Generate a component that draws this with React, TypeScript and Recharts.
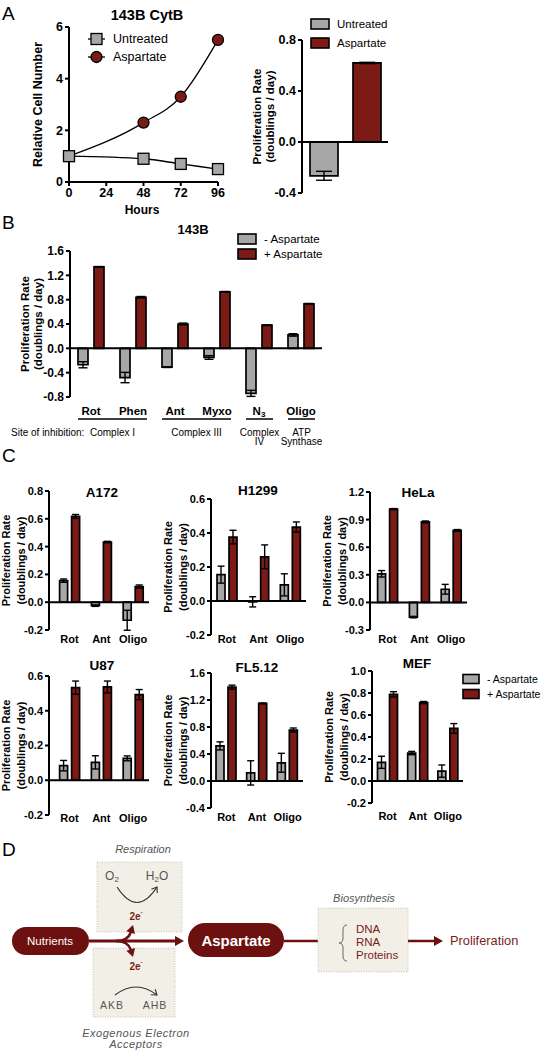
import React from "react";
import { BarChart, Bar, LineChart, Line, XAxis, YAxis, ReferenceLine, ErrorBar } from "recharts";

const FONT = "'Liberation Sans', Arial, Helvetica, sans-serif";
const GRAY = "#a7a7a7";
const RED = "#7c1b16";
const DARK = "#6c1010";
const TEXT_RED = "#7a1c1c";
const SOFT = "#555";

// A: growth curve of 143B CytB cells
const hours = [0, 48, 72, 96];
const untreatedCells = [1, 0.9, 0.7, 0.5];
const aspartateCells = [1, 2.3, 3.3, 5.5];
const hourTicks = [0, 24, 48, 72, 96];
const cellTicks = [0, 2, 4, 6];

// A: proliferation rate
const rateValues = [-0.265, 0.62];
const rateErrors = [0.035, 0.005];
const rateTicks = [-0.4, 0, 0.4, 0.8];

// B: 143B with ETC inhibitors
const inhibitors = ["Rot", "Phen", "Ant", "Myxo", "N3", "Oligo"];
const b143Minus = [-0.27, -0.48, -0.31, -0.15, -0.74, 0.22];
const b143MinusErr = [0.05, 0.085, 0.005, 0.03, 0.05, 0.02];
const b143Plus = [1.34, 0.84, 0.4, 0.93, 0.38, 0.73];
const b143PlusErr = [0.005, 0.012, 0.015, 0.005, 0.005, 0.008];
const b143Ticks = [-0.8, -0.4, 0, 0.4, 0.8, 1.2, 1.6];
const siteLabels = [["Complex I"], ["Complex III"], ["Complex", "IV"], ["ATP", "Synthase"]];
const siteSpans = [[0, 1], [2, 3], [4, 4], [5, 5]];

// C: other cell lines
const cInhibitors = ["Rot", "Ant", "Oligo"];
const a172Minus = [0.155, -0.025, -0.13];
const a172MinusErr = [0.012, 0.005, 0.072];
const a172Plus = [0.617, 0.433, 0.112];
const a172PlusErr = [0.014, 0.005, 0.012];
const a172Ticks = [-0.2, 0, 0.2, 0.4, 0.6, 0.8];

const h1299Minus = [0.155, -0.005, 0.095];
const h1299MinusErr = [0.05, 0.03, 0.065];
const h1299Plus = [0.376, 0.26, 0.435];
const h1299PlusErr = [0.04, 0.07, 0.03];
const h1299Ticks = [-0.2, 0, 0.2, 0.4, 0.6];

const helaMinus = [0.311, -0.16, 0.143];
const helaMinusErr = [0.035, 0.008, 0.053];
const helaPlus = [1.014, 0.875, 0.782];
const helaPlusErr = [0.006, 0.01, 0.01];
const helaTicks = [-0.3, 0, 0.3, 0.6, 0.9, 1.2];

const u87Minus = [0.084, 0.103, 0.126];
const u87MinusErr = [0.03, 0.038, 0.014];
const u87Plus = [0.533, 0.537, 0.493];
const u87PlusErr = [0.038, 0.034, 0.029];
const u87Ticks = [-0.2, 0, 0.2, 0.4, 0.6];

const fl512Minus = [0.52, 0.12, 0.27];
const fl512MinusErr = [0.06, 0.18, 0.14];
const fl512Plus = [1.39, 1.15, 0.755];
const fl512PlusErr = [0.03, 0.005, 0.03];
const fl512Ticks = [-0.4, 0, 0.4, 0.8, 1.2, 1.6];

const mefMinus = [0.17, 0.254, 0.09];
const mefMinusErr = [0.055, 0.015, 0.056];
const mefPlus = [0.788, 0.713, 0.478];
const mefPlusErr = [0.024, 0.01, 0.044];
const mefTicks = [-0.2, 0, 0.2, 0.4, 0.6, 0.8, 1.0];

const rows = (cats: string[], minus: number[], minusErr: number[], plus: number[], plusErr: number[]) =>
  cats.map((name, i) => ({ name, minus: minus[i], minusErr: minusErr[i], plus: plus[i], plusErr: plusErr[i] }));

const growthRows = hours.map((h, i) => ({ h, untreated: untreatedCells[i], aspartate: aspartateCells[i] }));

type Frame = { axisX: number; top: number; bottom: number; right: number; pad: number; labelY: number };

function CategoryTick({ x, y, payload, size }: any) {
  const v = String(payload.value);
  const m = v.match(/^(\D+)(\d)$/);
  return (
    <text x={x} y={y} textAnchor="middle" dominantBaseline="central" fontSize={size} fontWeight={700} fill="#000" fontFamily={FONT}>
      {m ? (
        <>
          {m[1]}
          <tspan fontSize={size * 0.7} dy={3}>{m[2]}</tspan>
        </>
      ) : v}
    </text>
  );
}

function AxisTitle({ viewBox, dx, size, lines }: any) {
  const vb = viewBox ?? { x: 0, y: 0, width: 0, height: 0 };
  const axisX = vb.x + vb.width;
  const cy = vb.y + vb.height / 2;
  return (
    <g>
      {lines.map((t: string, i: number) => (
        <text
          key={t}
          x={axisX + dx[i]}
          y={cy}
          transform={`rotate(-90 ${axisX + dx[i]} ${cy})`}
          textAnchor="middle"
          dominantBaseline="central"
          fontSize={size}
          fontWeight={700}
          fill="#000"
          fontFamily={FONT}
        >
          {t}
        </text>
      ))}
    </g>
  );
}

const RATE_LINES = ["Proliferation Rate", "(doublings / day)"];

function RateBars({ data, frame, ticks, barSize, barGap, errW, tickFont, catFont, labelFont, labelDx }: any) {
  const f: Frame = frame;
  const YW = 50;
  const MT = 8;
  const MR = 4;
  const XH = 34;
  const width = YW + f.right - f.axisX + MR;
  const height = MT + f.bottom - f.top + XH;
  return (
    <div style={{ position: "absolute", left: f.axisX - YW, top: f.top - MT }}>
      <BarChart width={width} height={height} data={data} margin={{ top: MT, right: MR, bottom: 0, left: 0 }} barSize={barSize} barGap={barGap}>
        <XAxis
          dataKey="name"
          height={XH}
          axisLine={false}
          tickLine={false}
          interval={0}
          padding={{ left: f.pad, right: 0 }}
          tickSize={0}
          tickMargin={f.labelY - f.bottom}
          tick={<CategoryTick size={catFont} />}
        />
        <YAxis
          width={YW}
          type="number"
          domain={[ticks[0], ticks[ticks.length - 1]]}
          ticks={ticks}
          interval={0}
          allowDataOverflow
          tickFormatter={(v: number) => v.toFixed(1)}
          tick={{ fill: "#000", fontSize: tickFont, fontWeight: 700, fontFamily: FONT }}
          tickSize={4}
          tickMargin={2}
          axisLine={{ stroke: "#000", strokeWidth: 2 }}
          tickLine={{ stroke: "#000", strokeWidth: 2 }}
          label={<AxisTitle dx={labelDx} size={labelFont} lines={RATE_LINES} />}
        />
        <ReferenceLine y={0} stroke="#000" strokeWidth={2} />
        <Bar dataKey="minus" fill={GRAY} stroke="#000" strokeWidth={1.7} isAnimationActive={false}>
          <ErrorBar dataKey="minusErr" width={errW} stroke="#000" strokeWidth={1.4} />
        </Bar>
        <Bar dataKey="plus" fill={RED} stroke="#000" strokeWidth={1.7} isAnimationActive={false}>
          <ErrorBar dataKey="plusErr" width={errW} stroke="#000" strokeWidth={1.4} />
        </Bar>
      </BarChart>
    </div>
  );
}

function SquareDot({ cx, cy }: any) {
  if (cx == null || cy == null) return null;
  return <rect x={cx - 5.5} y={cy - 5.5} width={11} height={11} fill={GRAY} stroke="#000" strokeWidth={1.3} />;
}

function CircleDot({ cx, cy }: any) {
  if (cx == null || cy == null) return null;
  return <circle cx={cx} cy={cy} r={5.5} fill={RED} stroke="#000" strokeWidth={1.3} />;
}

function GrowthChart() {
  const axisX = 69;
  const top = 27;
  const bottom = 182;
  const right = 218;
  const YW = 69;
  const MT = 8;
  const MR = 14;
  const XH = 26;
  const tick = { fill: "#000", fontSize: 12.5, fontWeight: 700, fontFamily: FONT };
  return (
    <div style={{ position: "absolute", left: axisX - YW, top: top - MT }}>
      <LineChart width={YW + right - axisX + MR} height={MT + bottom - top + XH} data={growthRows} margin={{ top: MT, right: MR, bottom: 0, left: 0 }}>
        <XAxis
          type="number"
          dataKey="h"
          domain={[0, 96]}
          ticks={hourTicks}
          interval={0}
          height={XH}
          tick={tick}
          tickSize={4}
          tickMargin={2}
          axisLine={{ stroke: "#000", strokeWidth: 2 }}
          tickLine={{ stroke: "#000", strokeWidth: 2 }}
        />
        <YAxis
          width={YW}
          type="number"
          domain={[0, 6]}
          ticks={cellTicks}
          interval={0}
          tick={tick}
          tickSize={4}
          tickMargin={2}
          axisLine={{ stroke: "#000", strokeWidth: 2 }}
          tickLine={{ stroke: "#000", strokeWidth: 2 }}
          label={<AxisTitle dx={[-31]} size={12.5} lines={["Relative Cell Number"]} />}
        />
        <Line type="monotone" dataKey="aspartate" stroke="#000" strokeWidth={1.3} dot={<CircleDot />} isAnimationActive={false} />
        <Line type="monotone" dataKey="untreated" stroke="#000" strokeWidth={1.3} dot={<SquareDot />} isAnimationActive={false} />
      </LineChart>
    </div>
  );
}

function arrowHead(tx: number, ty: number, dx: number, dy: number, len: number, half: number) {
  const n = Math.hypot(dx, dy);
  const ux = dx / n;
  const uy = dy / n;
  const bx = tx - ux * len;
  const by = ty - uy * len;
  return `${tx},${ty} ${bx - uy * half},${by + ux * half} ${bx + uy * half},${by - ux * half}`;
}

function chevron(tx: number, ty: number, dx: number, dy: number, len: number, half: number) {
  const n = Math.hypot(dx, dy);
  const ux = dx / n;
  const uy = dy / n;
  const bx = tx - ux * len;
  const by = ty - uy * len;
  return `M${bx - uy * half},${by + ux * half} L${tx},${ty} L${bx + uy * half},${by - ux * half}`;
}

function Txt({ x, y, size = 11, bold = false, italic = false, anchor = "middle", fill = "#000", children, spacing }: any) {
  return (
    <text
      x={x}
      y={y}
      fontSize={size}
      fontWeight={bold ? 700 : 400}
      fontStyle={italic ? "italic" : "normal"}
      textAnchor={anchor}
      dominantBaseline="central"
      fill={fill}
      fontFamily={FONT}
      letterSpacing={spacing}
    >
      {children}
    </text>
  );
}

function Swatch({ x, y, w, h, fill, label, size }: any) {
  return (
    <g>
      <rect x={x} y={y - h / 2} width={w} height={h} fill={fill} stroke="#000" strokeWidth={1.6} />
      <Txt x={x + w + 8} y={y} size={size} anchor="start">{label}</Txt>
    </g>
  );
}

function Overlay() {
  const bFrame = b143Frame;
  const band = (bFrame.right - bFrame.axisX) / inhibitors.length;
  const center = (i: number) => bFrame.axisX + bFrame.pad + band * (i + 0.5);
  return (
    <svg width={541} height={1050} style={{ position: "absolute", left: 0, top: 0 }}>
      {/* panel letters */}
      <Txt x={2} y={13} size={19} anchor="start">A</Txt>
      <Txt x={2} y={222} size={19} anchor="start">B</Txt>
      <Txt x={2} y={455} size={19} anchor="start">C</Txt>
      <Txt x={2} y={849} size={19} anchor="start">D</Txt>

      {/* A */}
      <Txt x={147} y={15} size={14.5} bold>143B CytB</Txt>
      <line x1={88} x2={105} y1={39} y2={39} stroke="#000" strokeWidth={1.3} />
      <rect x={91} y={33.5} width={11} height={11} fill={GRAY} stroke="#000" strokeWidth={1.3} />
      <Txt x={113} y={39} size={12.5} anchor="start">Untreated</Txt>
      <line x1={88} x2={105} y1={57} y2={57} stroke="#000" strokeWidth={1.3} />
      <circle cx={96.5} cy={57} r={5.5} fill={RED} stroke="#000" strokeWidth={1.3} />
      <Txt x={113} y={57} size={12.5} anchor="start">Aspartate</Txt>
      <Txt x={142} y={210} size={12} bold>Hours</Txt>
      <Swatch x={311} y={24} w={18} h={10} fill={GRAY} label="Untreated" size={11.5} />
      <Swatch x={311} y={43} w={18} h={10} fill={RED} label="Aspartate" size={11.5} />

      {/* B */}
      <Txt x={193} y={229} size={13} bold>143B</Txt>
      <Swatch x={238} y={239} w={18} h={10} fill={GRAY} label="- Aspartate" size={11.5} />
      <Swatch x={238} y={254} w={18} h={10} fill={RED} label="+ Aspartate" size={11.5} />
      <Txt x={11} y={432} size={10} anchor="start">Site of inhibition:</Txt>
      {siteSpans.map(([a, b], i) => {
        const x1 = center(a) - 13;
        const x2 = center(b) + 14;
        const mid = (x1 + x2) / 2;
        return (
          <g key={i}>
            <line x1={x1} x2={x2} y1={419} y2={419} stroke="#000" strokeWidth={1.5} />
            {siteLabels[i].map((t, j) => (
              <Txt key={t} x={mid} y={432 + j * 9.5} size={10}>{t}</Txt>
            ))}
          </g>
        );
      })}

      {/* C titles + legend */}
      <Txt x={102} y={492} size={13.5} bold>A172</Txt>
      <Txt x={258} y={490} size={13.5} bold>H1299</Txt>
      <Txt x={418} y={492} size={13.5} bold>HeLa</Txt>
      <Txt x={102} y={665} size={13.5} bold>U87</Txt>
      <Txt x={257} y={667} size={13.5} bold>FL5.12</Txt>
      <Txt x={417} y={663} size={13.5} bold>MEF</Txt>
      <Swatch x={463} y={679} w={16} h={9} fill={GRAY} label="- Aspartate" size={10.5} />
      <Swatch x={463} y={694} w={16} h={9} fill={RED} label="+ Aspartate" size={10.5} />

      {/* D diagram */}
      <Txt x={143} y={849} size={11} italic fill={SOFT}>Respiration</Txt>
      <rect x={97} y={862} width={85} height={70} fill="#f2f0e6" stroke="#c6c3b4" strokeDasharray="1 1.5" />
      <text x={112} y={876} fontSize={12} fill={SOFT} fontFamily={FONT} textAnchor="middle" dominantBaseline="central">
        O<tspan fontSize={8} dy={3}>2</tspan>
      </text>
      <text x={157} y={876} fontSize={12} fill={SOFT} fontFamily={FONT} textAnchor="middle" dominantBaseline="central">
        H<tspan fontSize={8} dy={3}>2</tspan><tspan dy={-3}>O</tspan>
      </text>
      <path d="M117,887 Q137,918 157,887" fill="none" stroke="#333" strokeWidth={1.1} />
      <path d={chevron(157, 887, 20, -31, 5, 3.5)} fill="none" stroke="#333" strokeWidth={1.1} />
      <text x={136} y={916} fontSize={10} fontWeight={700} fill={TEXT_RED} fontFamily={FONT} textAnchor="middle" dominantBaseline="central">
        2e<tspan fontSize={6} dy={-4}>-</tspan>
      </text>
      <rect x={93} y={948} width={82} height={69} fill="#f2f0e6" stroke="#c6c3b4" strokeDasharray="1 1.5" />
      <text x={136} y={966} fontSize={10} fontWeight={700} fill={TEXT_RED} fontFamily={FONT} textAnchor="middle" dominantBaseline="central">
        2e<tspan fontSize={6} dy={-4}>-</tspan>
      </text>
      <path d="M115,995 Q136,979 157,995" fill="none" stroke="#333" strokeWidth={1.1} />
      <path d={chevron(157, 995, 21, 16, 5, 3.5)} fill="none" stroke="#333" strokeWidth={1.1} />
      <Txt x={112} y={1005} size={10.5} fill={SOFT} spacing={1}>AKB</Txt>
      <Txt x={155} y={1005} size={10.5} fill={SOFT} spacing={1}>AHB</Txt>
      <Txt x={136} y={1033} size={11} italic fill={SOFT} spacing={0.5}>Exogenous Electron</Txt>
      <Txt x={136} y={1044} size={11} italic fill={SOFT} spacing={0.5}>Acceptors</Txt>

      <rect x={12} y={927} width={77} height={28} rx={14} fill={DARK} />
      <Txt x={50} y={941} size={11.5} fill="#fff">Nutrients</Txt>
      <line x1={89} x2={177} y1={941} y2={941} stroke={DARK} strokeWidth={3} />
      <polygon points={arrowHead(184, 941, 1, 0, 9, 5)} fill={DARK} />
      <path d="M116,941 Q128,941 131,932" fill="none" stroke={DARK} strokeWidth={2.5} />
      <polygon points={arrowHead(133, 925, 0.3, -1, 8, 4.5)} fill={DARK} />
      <path d="M116,941 Q128,941 131,950" fill="none" stroke={DARK} strokeWidth={2.5} />
      <polygon points={arrowHead(133, 957, 0.3, 1, 8, 4.5)} fill={DARK} />

      <rect x={188} y={923} width={96} height={34} rx={17} fill={DARK} />
      <Txt x={236} y={940} size={15} bold fill="#fff">Aspartate</Txt>
      <line x1={284} x2={328} y1={941} y2={941} stroke={DARK} strokeWidth={2.5} />
      <polygon points={arrowHead(336, 941, 1, 0, 9, 5)} fill={DARK} />

      <Txt x={364} y={898} size={11} italic fill={SOFT}>Biosynthesis</Txt>
      <rect x={318} y={908} width={90} height={64} fill="#f2f0e6" stroke="#c6c3b4" strokeDasharray="1 1.5" />
      <path d="M347,925 Q343,925 343,930 L343,938 Q343,943 339,943 Q343,943 343,948 L343,956 Q343,961 347,961" fill="none" stroke="#666" strokeWidth={1} />
      <Txt x={356} y={929} size={11.5} anchor="start" fill={TEXT_RED}>DNA</Txt>
      <Txt x={356} y={942} size={11.5} anchor="start" fill={TEXT_RED}>RNA</Txt>
      <Txt x={356} y={955} size={11.5} anchor="start" fill={TEXT_RED}>Proteins</Txt>
      <line x1={408} x2={436} y1={941} y2={941} stroke={DARK} strokeWidth={2.5} />
      <polygon points={arrowHead(443, 941, 1, 0, 9, 5)} fill={DARK} />
      <Txt x={450} y={940} size={12.8} anchor="start" fill={TEXT_RED}>Proliferation</Txt>
    </svg>
  );
}

const b143Frame: Frame = { axisX: 70, top: 251, bottom: 397, right: 322, pad: 0, labelY: 411 };
const rateFrame: Frame = { axisX: 302, top: 40, bottom: 193, right: 388, pad: 0, labelY: 205 };

const cCharts = [
  { data: rows(cInhibitors, a172Minus, a172MinusErr, a172Plus, a172PlusErr), ticks: a172Ticks, frame: { axisX: 49, top: 491, bottom: 630, right: 149, pad: 4.6, labelY: 639 } },
  { data: rows(cInhibitors, h1299Minus, h1299MinusErr, h1299Plus, h1299PlusErr), ticks: h1299Ticks, frame: { axisX: 211, top: 499, bottom: 635, right: 306, pad: 0, labelY: 639 } },
  { data: rows(cInhibitors, helaMinus, helaMinusErr, helaPlus, helaPlusErr), ticks: helaTicks, frame: { axisX: 370, top: 492, bottom: 630, right: 467, pad: 1.6, labelY: 639 } },
  { data: rows(cInhibitors, u87Minus, u87MinusErr, u87Plus, u87PlusErr), ticks: u87Ticks, frame: { axisX: 49, top: 676, bottom: 815, right: 149, pad: 4.6, labelY: 818 } },
  { data: rows(cInhibitors, fl512Minus, fl512MinusErr, fl512Plus, fl512PlusErr), ticks: fl512Ticks, frame: { axisX: 211, top: 673, bottom: 808, right: 303, pad: 0, labelY: 817 } },
  { data: rows(cInhibitors, mefMinus, mefMinusErr, mefPlus, mefPlusErr), ticks: mefTicks, frame: { axisX: 372, top: 671, bottom: 803, right: 463, pad: 0.5, labelY: 816 } },
];

export default function App() {
  return (
    <div
      style={{
        position: "absolute",
        left: 0,
        top: 0,
        width: 541,
        height: 1050,
        background: "#fff",
        overflow: "hidden",
        fontFamily: FONT,
      }}
    >
      <Overlay />
      <GrowthChart />
      <RateBars
        data={[{ name: "", minus: rateValues[0], minusErr: rateErrors[0], plus: rateValues[1], plusErr: rateErrors[1] }]}
        frame={rateFrame}
        ticks={rateTicks}
        barSize={28}
        barGap={15}
        errW={8}
        tickFont={12.5}
        catFont={11}
        labelFont={11.5}
        labelDx={[-45, -32]}
      />
      <RateBars
        data={rows(inhibitors, b143Minus, b143MinusErr, b143Plus, b143PlusErr)}
        frame={b143Frame}
        ticks={b143Ticks}
        barSize={10}
        barGap={6}
        errW={4.5}
        tickFont={12}
        catFont={11.5}
        labelFont={11.5}
        labelDx={[-45, -32]}
      />
      {cCharts.map((c, i) => (
        <RateBars
          key={i}
          data={c.data}
          frame={c.frame}
          ticks={c.ticks}
          barSize={8}
          barGap={4}
          errW={3.5}
          tickFont={11}
          catFont={11}
          labelFont={11}
          labelDx={[-43, -28]}
        />
      ))}
    </div>
  );
}
